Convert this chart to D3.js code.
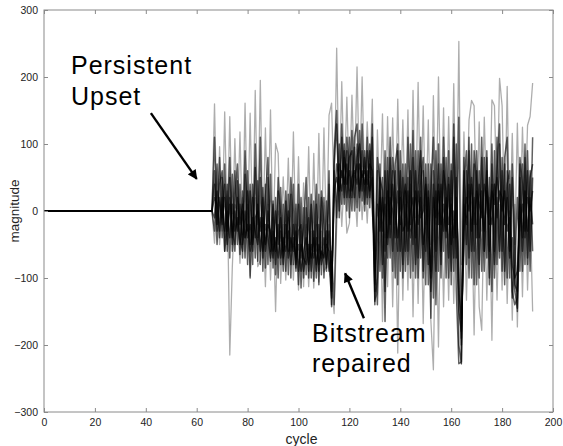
<!DOCTYPE html>
<html><head><meta charset="utf-8">
<script src="https://cdn.jsdelivr.net/npm/d3@7/dist/d3.min.js"></script>
<style>body{margin:0;background:#fff}svg{display:block}</style>
</head><body>
<svg id="chart" width="563" height="446"></svg>
<script>
// ---------- data ----------
const xTicks = [0, 20, 40, 60, 80, 100, 120, 140, 160, 180, 200];
const yTicks = [-300, -200, -100, 0, 100, 200, 300];
const quietCycles = [0, 66];      // magnitude stays 0 before the upset
const startCycle = 66;            // first cycle of the series below

// light grey traces that carry the largest spikes
const upperTrace = [
  0,160,-20,96,-30,148,-25,141,-30,108,
  -20,118,-35,161,-30,146,-40,180,-20,195,
  -40,124,-30,151,-50,101,86,-45,51,-40,
  79,-55,118,-50,81,-60,42,-50,96,-55,
  86,-60,116,-55,124,-50,143,161,20,243,
  30,193,40,170,30,173,50,215,40,200,
  30,133,50,167,-60,121,0,145,-40,141,
  -10,139,-20,167,0,136,-10,151,-30,180,
  -10,192,0,157,-20,136,-50,172,-20,200,
  -10,154,-30,141,-20,190,-40,253,-80,118,
  -10,136,165,157,-20,133,-30,140,0,-20,
  166,157,10,198,157,-20,186,-40,116,-50,
  131,-30,125,0,128,141,191];
const lowerTrace = [
  0,-48,20,-50,10,-40,30,-215,-83,10,
  0,-78,20,-60,10,-97,-10,20,-83,-73,
  0,-113,10,-103,-10,-150,0,-108,-20,-103,
  -10,-30,-103,-20,-118,-30,-113,-20,-113,-30,
  -115,-20,-106,-30,-91,-83,-20,-110,-153,-23,
  60,-23,50,-33,-18,60,40,-23,70,-13,
  50,-18,60,20,-133,-123,30,-165,20,-113,
  40,-143,20,-212,30,-133,10,-118,40,-158,
  20,-138,30,-168,10,40,-163,-237,20,-203,
  30,-143,10,-133,20,-138,0,-60,-228,20,
  -133,30,10,-185,20,-143,-178,30,-133,20,
  -193,40,-133,10,-118,30,-138,0,-163,10,
  -173,20,-128,30,-118,10,-150];
// dark traces forming the dense core
const core1 = [
  0,-30,70,-40,50,-60,40,-70,55,-50,
  45,-65,30,-40,60,-100,20,-70,45,-80,
  35,-85,50,-75,15,-95,30,-80,10,-90,
  25,-100,40,-85,10,-115,5,-95,20,-100,
  15,-90,25,-95,20,-85,40,-143,60,-10,
  100,10,90,0,110,20,95,5,120,15,
  90,10,100,40,-140,60,-90,50,-165,80,
  -70,60,-100,90,-60,70,-90,50,-100,80,
  -80,90,-70,60,-110,70,-160,40,-90,100,
  -60,80,-100,50,-90,110,-120,-228,-225,60,
  -80,90,-60,70,-110,60,-90,80,-70,50,
  -120,90,-80,100,-60,70,-100,40,-120,-140,
  -130,50,-90,80,-70,60,-60];
const core2 = [
  0,110,-20,80,-40,70,-50,50,-60,60,
  -50,40,-70,55,-80,30,-60,65,-75,50,
  -90,40,-80,55,-85,20,-100,35,-80,15,
  -95,25,-80,10,-110,20,-100,5,-90,25,
  -105,10,-90,20,-100,15,-80,-130,70,130,
  0,110,10,90,-10,120,20,100,0,130,
  10,90,5,110,-135,-100,70,-80,60,-70,
  80,-90,60,-110,90,-80,70,-60,100,-90,
  60,-70,110,-100,50,-80,70,-130,90,-90,
  70,-60,80,-100,60,-70,100,-200,-228,40,
  90,-70,100,-110,60,-80,80,-60,90,-100,
  70,-80,110,-60,80,-90,60,-70,50,-120,
  -145,70,-60,100,-80,50,70];
const core3 = [
  0,20,10,-30,20,-30,0,-40,10,-30,
  -10,-50,0,-40,-20,-60,-10,-30,-50,-10,
  -60,-20,-40,-70,-30,-60,-20,-70,-40,-60,
  -30,-80,-40,-70,-50,-90,-60,-40,-80,-50,
  -70,-40,-80,-60,-70,-50,-60,-120,30,50,
  30,60,40,70,20,50,60,40,70,50,
  60,40,70,60,-110,-40,20,-30,10,-50,
  20,0,-40,30,-20,10,40,-30,0,20,
  -40,30,-10,0,40,-30,-90,20,-10,30,
  -20,10,-30,40,-50,0,-40,-150,-180,-30,
  20,0,40,-20,30,10,-10,40,20,-20,
  30,10,50,20,0,30,-30,-10,-80,-100,
  -90,-20,10,-30,20,0,30];
const core4 = [
  0,-10,30,10,-20,20,-30,10,-40,0,
  -30,10,-50,0,-40,-20,-50,-10,0,-60,
  -10,-50,-20,-30,-60,-40,-70,-30,-60,-20,
  -70,-40,-60,-30,-90,-50,-70,-80,-50,-70,
  -40,-80,-50,-70,-40,-80,-30,-100,10,70,
  50,30,80,40,60,30,50,70,30,60,
  40,60,30,50,-90,10,-30,20,-60,30,
  -20,40,-10,-40,20,-30,-20,30,-40,-10,
  30,-20,20,-50,-20,30,-120,-40,30,-20,
  40,-30,20,-20,10,-40,20,-100,-200,10,
  -20,40,-30,20,-40,40,0,-30,30,0,
  -20,40,-10,30,20,-20,20,-60,-40,-110,
  -120,10,-40,30,-30,20,-20];
const core5 = [
  0,60,-30,40,60,-60,-20,80,-50,20,
  70,-40,-60,90,-30,40,-80,100,-40,110,
  -70,20,80,-60,10,-80,50,-10,-90,30,
  -60,50,-20,-90,40,-70,-30,50,-100,10,
  -60,40,-110,30,-20,-90,60,-140,90,150,
  -10,130,20,110,50,0,110,130,20,90,
  0,110,20,130,-120,80,40,-100,90,-40,
  110,-60,70,100,-90,50,-60,110,-20,120,
  -100,40,90,-90,70,-110,30,110,-60,70,
  -100,110,-40,90,-110,130,-70,140,-190,80,
  -50,110,-100,90,40,-100,110,-60,80,-110,
  100,-60,60,130,-90,80,110,-100,70,-60,
  -150,80,40,-80,90,-60,110];
const core6 = [
  0,40,-50,20,-10,40,-60,20,-20,-60,
  20,-20,10,-70,30,-50,40,-40,10,-30,
  20,-60,0,-40,-70,0,-50,-10,-70,-40,
  0,-60,-20,-80,-30,-20,-90,-60,-10,-90,
  -30,-100,-20,-80,-60,-30,-90,-60,-140,20,
  70,50,100,20,80,90,0,80,100,30,
  80,20,90,0,-60,-140,50,30,-120,60,
  -40,80,30,-60,60,-100,30,-80,60,-50,
  90,-100,40,80,-60,20,-100,60,-140,40,
  -80,60,30,-70,70,-90,50,-120,-160,-60,
  60,-100,50,-60,90,-40,30,-90,60,-60,
  40,-100,20,-70,60,-110,40,60,-130,-80,
  20,-90,70,-40,60,-90,50];

const lightTraces = [upperTrace, lowerTrace];
const darkTraces = [core1, core2, core3, core4, core5, core6];

const annotations = [
  {lines: ["Persistent", "Upset"], cycle: 10.6, mag: 204, lineStep: 31,
   arrowFrom: [42, 146], arrowTo: [60, 48]},
  {lines: ["Bitstream", "repaired"], cycle: 105.3, mag: -196, lineStep: 30,
   arrowFrom: [125.7, -160], arrowTo: [118.3, -93]}
];

// ---------- drawing ----------
const svg = d3.select("#chart");
const L = 44, R = 553, T = 10, B = 412;
const x = d3.scaleLinear().domain([0, 200]).range([L, R]);
const y = d3.scaleLinear().domain([-300, 300]).range([B, T]);

const toPoints = vals => [[quietCycles[0], 0]].concat(vals.map((v, i) => [startCycle + i, v]));
const line = d3.line().x(d => x(d[0])).y(d => y(d[1]));

// quiet baseline
svg.append("path")
  .attr("d", line(quietCycles.map(c => [c, 0])))
  .attr("fill", "none").attr("stroke", "#444").attr("stroke-width", 1.3);

const g = svg.append("g");
lightTraces.forEach(v => g.append("path")
  .attr("d", line(toPoints(v)))
  .attr("fill", "none").attr("stroke", "#000").attr("stroke-opacity", 0.32)
  .attr("stroke-width", 1.3).attr("stroke-linejoin", "round"));
darkTraces.forEach(v => g.append("path")
  .attr("d", line(toPoints(v)))
  .attr("fill", "none").attr("stroke", "#000").attr("stroke-opacity", 0.62)
  .attr("stroke-width", 1.5).attr("stroke-linejoin", "round"));

// frame
const axisColor = "#8a8a8a";
svg.append("rect").attr("x", L).attr("y", T).attr("width", R - L).attr("height", B - T)
  .attr("fill", "none").attr("stroke", axisColor).attr("stroke-width", 1);

const fmt = d3.format("d");
function styleAxis(sel, labels) {
  sel.select(".domain").remove();
  sel.selectAll(".tick line").attr("stroke", axisColor);
  sel.selectAll(".tick text").attr("fill", "#222")
    .style("font-family", "'Liberation Sans', Arial, Helvetica, sans-serif")
    .style("font-size", "10.5px");
  if (!labels) sel.selectAll(".tick text").remove();
}
svg.append("g").attr("transform", `translate(${L},0)`)
  .call(d3.axisLeft(y).tickValues(yTicks).tickSizeInner(-4).tickSizeOuter(0).tickPadding(6).tickFormat(fmt))
  .call(s => styleAxis(s, true));
svg.append("g").attr("transform", `translate(${R},0)`)
  .call(d3.axisRight(y).tickValues(yTicks).tickSizeInner(-4).tickSizeOuter(0))
  .call(s => styleAxis(s, false));
svg.append("g").attr("transform", `translate(0,${B})`)
  .call(d3.axisBottom(x).tickValues(xTicks).tickSizeInner(-4).tickSizeOuter(0).tickPadding(7).tickFormat(fmt))
  .call(s => styleAxis(s, true));
svg.append("g").attr("transform", `translate(0,${T})`)
  .call(d3.axisTop(x).tickValues(xTicks).tickSizeInner(-4).tickSizeOuter(0))
  .call(s => styleAxis(s, false));

// axis titles
const font = "'Liberation Sans', Arial, Helvetica, sans-serif";
svg.append("text").attr("x", (L + R) / 2 + 3).attr("y", 444)
  .attr("text-anchor", "middle").style("font-family", font).style("font-size", "14px")
  .attr("fill", "#222").text("cycle");
svg.append("text").attr("transform", `translate(19,${y(0)}) rotate(-90)`)
  .attr("text-anchor", "middle").style("font-family", font).style("font-size", "13.5px")
  .attr("fill", "#222").text("magnitude");

// annotations
const defs = svg.append("defs");
defs.append("marker").attr("id", "ah").attr("viewBox", "0 0 10 10")
  .attr("refX", 9).attr("refY", 5).attr("markerWidth", 4.5).attr("markerHeight", 4)
  .attr("orient", "auto").attr("markerUnits", "strokeWidth")
  .append("path").attr("d", "M0,0 L10,5 L0,10 z").attr("fill", "#000");

annotations.forEach(a => {
  a.lines.forEach((t, i) => svg.append("text")
    .attr("x", x(a.cycle)).attr("y", y(a.mag) + i * a.lineStep)
    .style("font-family", font).style("font-size", "25px").style("letter-spacing", "1px")
    .attr("fill", "#000").text(t));
  svg.append("line")
    .attr("x1", x(a.arrowFrom[0])).attr("y1", y(a.arrowFrom[1]))
    .attr("x2", x(a.arrowTo[0])).attr("y2", y(a.arrowTo[1]))
    .attr("stroke", "#000").attr("stroke-width", 2.4).attr("marker-end", "url(#ah)");
});
</script>
</body></html>
